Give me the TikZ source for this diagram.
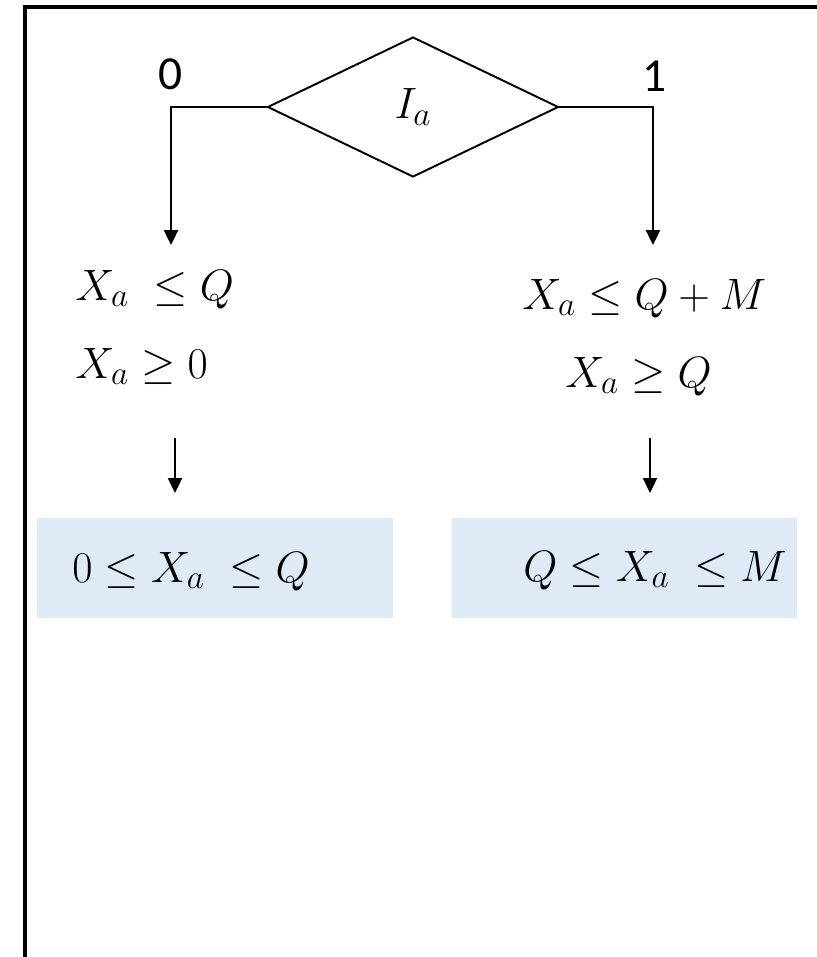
\RequirePackage{fix-cm}
\documentclass[tikz,border=0pt]{standalone}
\usepackage{fontspec}
\newfontfamily\lblfont{Carlito}
\usetikzlibrary{shapes.geometric,arrows.meta}
\definecolor{paleblue}{HTML}{DEEAF6}
\DeclareMathSizes{25}{25}{19}{14}

\begin{document}
\begin{tikzpicture}[x=0.02cm,y=-0.02cm,
  eq/.style={anchor=base west,inner sep=0pt,font=\fontsize{25}{30}\selectfont},
  bit/.style={anchor=base,inner sep=0pt,font=\fontsize{27}{32}\lblfont},
  arr/.style={line width=1.1pt,-{Triangle[width=8pt,length=8.5pt]}},
  rangebox/.style={fill=paleblue,inner sep=0pt,minimum width=7cm,minimum height=2cm}]
\useasboundingbox (0,0) rectangle (816,957);
% frame, cut at the right and bottom
\draw[line width=2.2pt,line join=miter] (25,980) -- (25,7) -- (840,7);

\node[diamond,draw,line width=1.1pt,minimum width=5.82cm,minimum height=2.8cm,inner sep=0pt,
  font=\fontsize{25}{30}\selectfont] (ia) at (413,107) {$I_a$};
\node[bit] (b0) at (171,89) {0};
\node[bit] (b1) at (655,91) {1};
\coordinate (t0) at (171,245);
\coordinate (t1) at (653,245);
\draw[arr] (ia.west) -| (t0);
\draw[arr] (ia.east) -| (t1);

\node[eq] (l1) at (75,300) {$X_a\;\le Q$};
\node[eq] (l2) at (75,378) {$X_a \ge 0$};
\node[eq] (r1) at (522,309) {$X_a \le Q + M$};
\node[eq] (r2) at (565,387) {$X_a \ge Q$};

\foreach \nm/\xx in {0/175,1/650}{
  \coordinate (s\nm) at (\xx,438);
  \coordinate (e\nm) at (\xx,493);
  \draw[arr] (s\nm) -- (e\nm);}

\node[rangebox,minimum width=7.12cm] (box0) at (215,568) {};
\node[rangebox,minimum width=6.9cm] (box1) at (624.5,568) {};
\node[eq] (v0) at (72,582) {$0 \le X_a\;\le Q$};
\node[eq] (v1) at (523,581) {$Q \le X_a\;\le M$};
\end{tikzpicture}
\end{document}
